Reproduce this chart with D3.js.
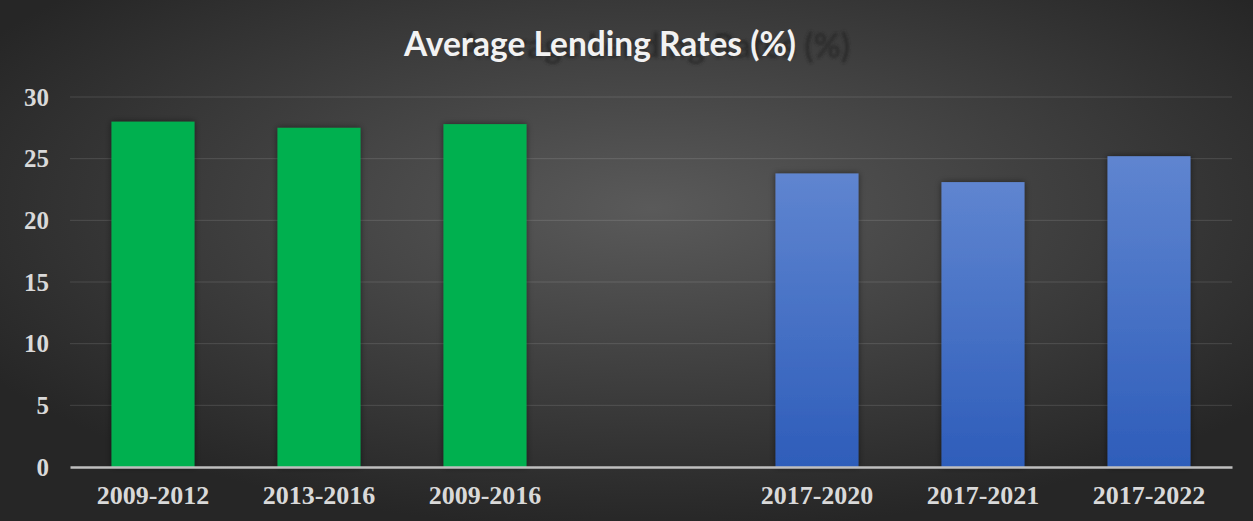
<!DOCTYPE html>
<html>
<head>
<meta charset="utf-8">
<script src="https://cdn.jsdelivr.net/npm/d3@7"></script>
<style>
  html, body { margin: 0; padding: 0; background: #333; }
  svg { display: block; }
</style>
</head>
<body>
<div id="chart"></div>
<script>
// data
var categories = ["2009-2012", "2013-2016", "2009-2016", "", "2017-2020", "2017-2021", "2017-2022"];
var values     = [28.0, 27.5, 27.8, null, 23.8, 23.1, 25.2];
var barGroup   = ["green", "green", "green", null, "blue", "blue", "blue"];
var yTicks     = [0, 5, 10, 15, 20, 25, 30];
var title      = "Average Lending Rates (%)";

var W = 1253, H = 521;
var margin = {top: 97, right: 21, bottom: 54, left: 70},
    width = W - margin.left - margin.right,
    height = H - margin.top - margin.bottom;

var svg = d3.select("#chart").append("svg")
    .attr("width", W)
    .attr("height", H);

var defs = svg.append("defs");

var bg = defs.append("radialGradient")
    .attr("id", "bg")
    .attr("cx", "52%").attr("cy", "40%").attr("r", "62%");
bg.append("stop").attr("offset", "0%").attr("stop-color", "#5a5a5a");
bg.append("stop").attr("offset", "100%").attr("stop-color", "#262626");

var blue = defs.append("linearGradient")
    .attr("id", "blueGrad")
    .attr("x1", 0).attr("y1", 0).attr("x2", 0).attr("y2", 1);
blue.append("stop").attr("offset", "0%").attr("stop-color", "#5f85d0");
blue.append("stop").attr("offset", "100%").attr("stop-color", "#2e5dba");

var shadow = defs.append("filter")
    .attr("id", "barShadow")
    .attr("x", "-20%").attr("y", "-20%").attr("width", "140%").attr("height", "140%");
shadow.append("feDropShadow")
    .attr("dx", 0).attr("dy", 0).attr("stdDeviation", 3)
    .attr("flood-color", "#000").attr("flood-opacity", 0.5);

var blur = defs.append("filter").attr("id", "ghostBlur");
blur.append("feGaussianBlur").attr("stdDeviation", 1.6);

svg.append("rect")
    .attr("width", W).attr("height", H)
    .attr("fill", "url(#bg)");

// title, with the dark ghost copy behind it
svg.append("text")
    .attr("x", 654).attr("y", 58)
    .attr("text-anchor", "middle")
    .attr("font-family", "Lato, 'Open Sans', sans-serif")
    .attr("font-weight", "bold")
    .attr("font-size", 33.5)
    .attr("fill", "#222")
    .attr("opacity", 0.7)
    .attr("filter", "url(#ghostBlur)")
    .text(title);
svg.append("text")
    .attr("x", 600).attr("y", 56)
    .attr("text-anchor", "middle")
    .attr("font-family", "Lato, 'Open Sans', sans-serif")
    .attr("font-weight", "bold")
    .attr("font-size", 33.5)
    .attr("fill", "#f2f2f2")
    .text(title);

var g = svg.append("g")
    .attr("transform", `translate(${margin.left},${margin.top})`);

var xScale = d3.scaleBand()
    .domain(d3.range(categories.length))
    .range([0, width])
    .paddingInner(0.5)
    .paddingOuter(0.25);

var yScale = d3.scaleLinear()
    .domain([0, 30])
    .range([height, 0]);

// gridlines
g.selectAll("line.grid")
    .data(yTicks.filter(d => d > 0))
    .enter().append("line")
    .attr("class", "grid")
    .attr("x1", 0).attr("x2", width)
    .attr("y1", d => yScale(d)).attr("y2", d => yScale(d))
    .attr("stroke", "#ffffff")
    .attr("stroke-opacity", 0.13)
    .attr("stroke-width", 1);

// bars
g.selectAll("rect.bar")
    .data(values.map((v, i) => ({v: v, i: i, grp: barGroup[i]})).filter(d => d.v !== null))
    .enter().append("rect")
    .attr("class", "bar")
    .attr("x", d => xScale(d.i))
    .attr("width", xScale.bandwidth())
    .attr("y", d => yScale(d.v))
    .attr("height", d => height - yScale(d.v))
    .attr("fill", d => d.grp === "green" ? "#00b050" : "url(#blueGrad)")
    .attr("filter", "url(#barShadow)");

// y axis labels
var yAxis = d3.axisLeft(yScale).tickValues(yTicks).tickSize(0).tickPadding(21);
var yG = g.append("g").call(yAxis);
yG.select(".domain").remove();
yG.selectAll("text")
    .attr("font-family", "'Liberation Serif', 'Times New Roman', serif")
    .attr("font-weight", "bold")
    .attr("font-size", 25)
    .attr("fill", "#d9d9d9");

// x axis
var xAxis = d3.axisBottom(xScale).tickFormat(i => categories[i]).tickSize(0).tickPadding(19);
var xG = g.append("g")
    .attr("transform", `translate(0,${height})`)
    .call(xAxis);
xG.select(".domain")
    .attr("stroke", "#bfbfbf")
    .attr("stroke-width", 2.5);
xG.selectAll("text")
    .attr("font-family", "'Liberation Serif', 'Times New Roman', serif")
    .attr("font-weight", "bold")
    .attr("font-size", 26)
    .attr("fill", "#d9d9d9");
</script>
</body>
</html>
